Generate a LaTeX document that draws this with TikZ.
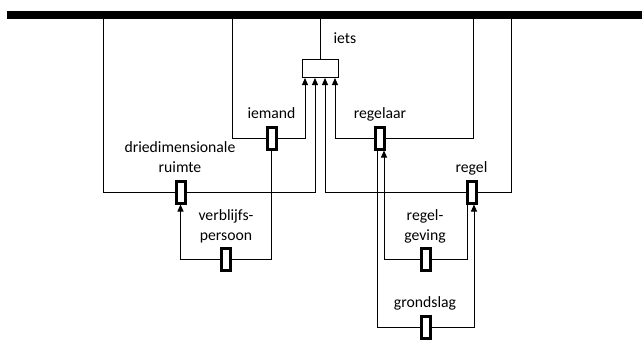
\documentclass[tikz,border=0pt]{standalone}
\usepackage{fontspec}
\setmainfont{Carlito}
\usetikzlibrary{arrows.meta}
\begin{document}
\begin{tikzpicture}[x=1pt,y=-1pt,
  thinl/.style={line width=1pt},
  arr/.style={-{Triangle[width=6pt,length=7pt]}, line width=1pt},
  tag/.style={draw, line width=3pt, fill=white, minimum width=9pt, minimum height=22pt, inner sep=0pt},
  lbl/.style={font=\fontsize{15.7}{19.2}\selectfont, align=center, inner sep=0pt, anchor=base}]
\useasboundingbox (0,0) rectangle (642,340);
% bar
\node[fill=black, minimum width=635pt, minimum height=8pt, inner sep=0pt, anchor=north west] (bar) at (7,11) {};
% central box
\node[draw, line width=1pt, minimum width=36pt, minimum height=18pt, inner sep=0pt, fill=white] (iets) at (320.5,68.5) {};
% tags
\node[tag] (iemand) at (271.5,138) {};
\node[tag] (regelaar) at (380,138) {};
\node[tag] (dried) at (180.5,192) {};
\node[tag] (regel) at (471.5,192) {};
\node[tag] (verb) at (226,259) {};
\node[tag] (regelg) at (426,259) {};
\node[tag] (grond) at (426,327) {};
% corner coordinates
\coordinate (c1) at (232,138);
\coordinate (c3) at (103,192);
\coordinate (c4) at (511,192);
\coordinate (c5) at (473,138);
\coordinate (a1) at ([xshift=-15.5pt]iets.south);
\coordinate (a2) at ([xshift=-5.5pt]iets.south);
\coordinate (a3) at ([xshift=4.5pt]iets.south);
\coordinate (a4) at ([xshift=14.5pt]iets.south);
% connectors
\draw[thinl] (iets) -- (iets |- bar.south);
\draw[thinl] (bar.south -| c1) |- (iemand);
\draw[arr] (iemand) -| (a1);
\draw[thinl] (bar.south -| c3) |- (dried);
\draw[arr] (dried) -| (a2);
\draw[thinl] (bar.south -| c4) |- (regel);
\draw[arr] (regel) -| (a3);
\draw[thinl] (bar.south -| c5) |- (regelaar);
\draw[arr] (regelaar) -| (a4);
\draw[thinl] (iemand.south) |- (verb);
\draw[arr] (verb) -| (dried.south);
\draw[thinl] ([xshift=-4.5pt]regel.south) |- (regelg);
\draw[arr] (regelg) -| ([xshift=4pt]regelaar.south);
\draw[thinl] ([xshift=-3pt]regelaar.south) |- (grond);
\draw[arr] (grond) -| ([xshift=2.5pt]regel.south);
% labels
\node[lbl] (tiets) at (345,43) {iets};
\node[lbl] (tiemand) at (271.5,118) {iemand};
\node[lbl] (tregelaar) at (380,118) {regelaar};
\node[lbl] (tdried) at (180,172) {driedimensionale\\ruimte};
\node[lbl] (tregel) at (471.5,172) {regel};
\node[lbl] (tverb) at (226,240) {verblijfs-\\persoon};
\node[lbl] (tregelg) at (425,240) {regel-\\geving};
\node[lbl] (tgrond) at (425,307) {grondslag};
\end{tikzpicture}
\end{document}
